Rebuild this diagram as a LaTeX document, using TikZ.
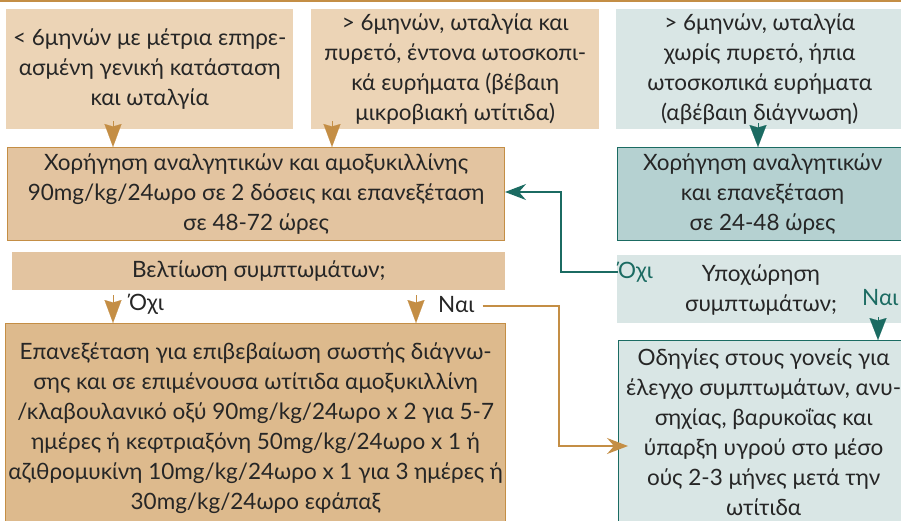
\documentclass[tikz,border=0pt]{standalone}
\usepackage{fontspec}
\setmainfont{Lato}
\usetikzlibrary{arrows.meta,calc}
\definecolor{lt}{HTML}{ECD4B6}
\definecolor{mt}{HTML}{E3C4A0}
\definecolor{dt}{HTML}{DDBA8D}
\definecolor{ltl}{HTML}{D9E6E5}
\definecolor{mtl}{HTML}{B5D1D1}
\definecolor{tl}{HTML}{1B6B62}
\definecolor{tn}{HTML}{C48E45}
\definecolor{txt}{HTML}{262626}
\tikzset{
  box/.style={anchor=north west, inner sep=0pt, align=center, text=txt,
    font=\fontsize{22.5}{30}\selectfont},
  tanbox/.style={box, fill=#1},
  tealbox/.style={box, fill=#1},
  tanedge/.style={draw=tn, line width=1.2pt},
  tealedge/.style={draw=tl, line width=1.2pt},
  tantip/.style={draw=tn, line width=0.1pt, -{Stealth[length=23pt,width=17pt,inset=2.5pt,fill=tn]}},
  tealtip/.style={draw=tl, line width=0.1pt, -{Stealth[length=22pt,width=17pt,inset=2.5pt,fill=tl]}},
  tanline/.style={draw=tn, line width=1.3pt, -{Stealth[length=21pt,width=16pt,inset=7pt,fill=tn]}},
  tealline/.style={draw=tl, line width=1.3pt, -{Stealth[length=21pt,width=16pt,inset=7pt,fill=tl]}},
  lbl/.style={inner sep=0pt, font=\fontsize{22.5}{26}\selectfont, text=txt},
}
\begin{document}
\begin{tikzpicture}[x=1pt,y=-1pt]
\useasboundingbox (0,0) rectangle (901,520);
\clip (0,0) rectangle (901,520);
\fill[tn] (0,0) rectangle (901,1.6);
% top row
\node[tanbox=lt, minimum width=287pt, minimum height=120pt] (b1) at (6,9)
  {< 6μηνών με μέτρια επηρε-\\ασμένη γενική κατάσταση\\και ωταλγία};
\node[tanbox=lt, minimum width=288pt, minimum height=120pt] (b2) at (311,9)
  {> 6μηνών, ωταλγία και\\πυρετό, έντονα ωτοσκοπι-\\κά ευρήματα (βέβαιη\\μικροβιακή ωτίτιδα)};
\node[tealbox=ltl, minimum width=287pt, minimum height=120pt] (b3) at (616,9)
  {> 6μηνών, ωταλγία\\χωρίς πυρετό, ήπια\\ωτοσκοπικά ευρήματα\\(αβέβαιη διάγνωση)};
% second row
\node[tanbox=mt, tanedge, minimum width=497pt, minimum height=93pt] (b4) at (7,147)
  {Χορήγηση αναλγητικών και αμοξυκιλλίνης\\90mg/kg/24ωρο σε 2 δόσεις και επανεξέταση\\σε 48-72 ώρες};
\node[tealbox=mtl, tealedge, minimum width=290pt, minimum height=93pt] (b5) at (617,147)
  {Χορήγηση αναλγητικών\\και επανεξέταση\\σε 24-48 ώρες};
% third row
\node[tanbox=mt, minimum width=493pt, minimum height=38pt] (b6) at (12,252)
  {Βελτίωση συμπτωμάτων;};
\fill[ltl] (617,255) rectangle (903,323);
\node[box, anchor=center] (b7) at (761,290) {Υποχώρηση\\συμπτωμάτων;};
\node[lbl, text=tl, anchor=west] (o2) at (618,272) {Όχι};
\node[lbl, text=tl, anchor=west] (n2) at (862,298) {Ναι};
% bottom row
\node[tanbox=dt, tanedge, minimum width=500pt, minimum height=210pt] (b8) at (5,323)
  {Επανεξέταση για επιβεβαίωση σωστής διάγνω-\\σης και σε επιμένουσα ωτίτιδα αμοξυκιλλίνη\\/κλαβουλανικό οξύ 90mg/kg/24ωρο x 2 για 5-7\\ημέρες ή κεφτριαξόνη 50mg/kg/24ωρο x 1 ή\\αζιθρομυκίνη 10mg/kg/24ωρο x 1 για 3 ημέρες ή\\30mg/kg/24ωρο εφάπαξ};
\node[tealbox=ltl, tealedge, minimum width=290pt, minimum height=183pt] (b9) at (618,340)
  {Οδηγίες στους γονείς για\\έλεγχο συμπτωμάτων, ανυ-\\σηχίας, βαρυκοΐας και\\ύπαρξη υγρού στο μέσο\\ούς 2-3 μήνες μετά την\\ωτίτιδα};
% labels under b6
\node[lbl, anchor=west] (o1) at (129,304) {Όχι};
\node[lbl, anchor=west] (n1) at (438,305) {Ναι};
% down tips
\draw[tantip] ($(b1.south west)+(107,-8)$) -- (b4.north -| 113,0);
\draw[tantip] ($(b2.south west)+(21,-8)$) -- (b4.north -| 332,0);
\draw[tealtip] ($(b3.south west)+(142,-6)$) -- (b5.north -| 758,0);
\draw[tantip] ($(b6.south west)+(101,5)$) -- (b8.north -| 113,0);
\draw[tantip] ($(b6.south west)+(404,5)$) -- (b8.north -| 416,0);
\draw[tealtip] (878,317) -- (b9.north -| 878,0);
% connectors
\coordinate (oend) at (505,192);
\draw[tealline] (o2.west) -- (561,272) |- (oend);
\coordinate (nend) at (628,446);
\draw[tanline] ($(n1.east)+(8,1)$) -- (559,306) |- (nend);
\end{tikzpicture}
\end{document}
